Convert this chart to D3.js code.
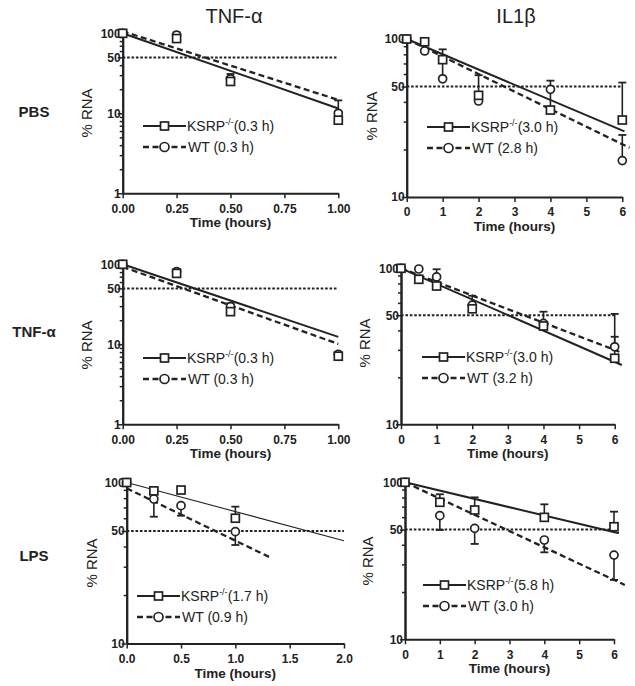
<!DOCTYPE html>
<html>
<head>
<meta charset="utf-8">
<title>mRNA decay, KSRP-/- vs WT</title>
<script src="https://d3js.org/d3.v7.min.js"></script>
<style>
  body { margin: 0; background: #fff; }
  text { font-family: Arial, "Liberation Sans", sans-serif; fill: #222; }
</style>
</head>
<body>
<div id="chart"></div>
<script>
// ---- data ----
var colTitles = ["TNF-\u03b1", "IL1\u03b2"];
var rowTitles = ["PBS", "TNF-\u03b1", "LPS"];

var timeShort = [0, 0.25, 0.5, 1];
var timeLong = [0, 0.5, 1, 2, 4, 6];
var timeLps = [0, 1, 2, 4, 6];

// PBS / TNF-a
var pbsTnfKsrp = [100, 86, 25, 8.2];
var pbsTnfWt = [100, 95, 27, 10];
var pbsTnfKsrpErr = [null, null, 31, null];
var pbsTnfWtErr = [null, 103, null, 14.5];
var pbsTnfKsrpFit = [[0, 100], [1, 11.5]];
var pbsTnfWtFit = [[0, 106], [1, 14.7]];

// PBS / IL1b
var pbsIl1Ksrp = [100, 96, 74, 44, 35.5, 30.7];
var pbsIl1Wt = [100, 84, 56, 40.5, 48, 17];
var pbsIl1KsrpErr = [null, null, 86, 59, 47, 53];
var pbsIl1WtErr = [null, null, 72, null, 54.5, 24.7];
var pbsIl1KsrpFit = [[0, 100], [6.06, 26]];
var pbsIl1WtFit = [[0, 100], [6.2, 20.5]];

// TNF-a / TNF-a
var tnfTnfKsrp = [100, 77, 25.6, 7.1];
var tnfTnfWt = [100, 81, 29.5, 7.5];
var tnfTnfKsrpErr = [null, null, null, null];
var tnfTnfWtErr = [null, 87, 32.5, null];
var tnfTnfKsrpFit = [[0, 100], [1, 12.4]];
var tnfTnfWtFit = [[0, 93], [1, 10.1]];

// TNF-a / IL1b
var tnfIl1Ksrp = [100, 85, 77, 55, 42.7, 26.5];
var tnfIl1Wt = [100, 99, 88, 58, 44.4, 31.4];
var tnfIl1KsrpErr = [null, null, null, null, null, 36.4];
var tnfIl1WtErr = [null, null, 98.6, 66.7, 52.7, 51];
var tnfIl1KsrpFit = [[0, 100], [6.2, 24]];
var tnfIl1WtFit = [[0, 100], [6.13, 29.2]];

// LPS / TNF-a
var lpsTnfKsrp = [100, 88.7, 89.8, 60];
var lpsTnfWt = [100, 79, 71.8, 49.5];
var lpsTnfKsrpErr = [null, null, null, 70.8];
var lpsTnfWtErr = [null, 61.3, 62.2, 40.9];
var lpsTnfKsrpFit = [[0, 100], [2, 43.5]];
var lpsTnfWtFit = [[0, 92], [1.33, 34]];

// LPS / IL1b
var lpsIl1Ksrp = [100, 74.6, 66.6, 59.8, 52.1];
var lpsIl1Wt = [100, 61.3, 50.9, 42.9, 34.4];
var lpsIl1KsrpErr = [null, 83.9, 80.2, 72.4, 65];
var lpsIl1WtErr = [null, 49.7, 40.5, 35.8, 23.9];
var lpsIl1KsrpFit = [[0, 100], [6.14, 47.3]];
var lpsIl1WtFit = [[0, 100], [6.31, 22.2]];

// half-lives shown in the legends
var ksrpHalf = ["0.3", "3.0", "0.3", "3.0", "1.7", "5.8"];
var wtHalf = ["0.3", "2.8", "0.3", "3.2", "0.9", "3.0"];

// ---- layout ----
var width = 635, height = 686;

var svg = d3.select("#chart")
  .append("svg")
    .attr("width", width)
    .attr("height", height);

var panels = [
  {x0: 122.7, x1: 338.3, xd: [0, 1], xt: [0, 0.25, 0.5, 0.75, 1], xf: d3.format(".2f"),
   yb: 193.3, yt: 33.3, yd: [1, 100], yTicks: [1, 10, 50, 100],
   t: timeShort, k: pbsTnfKsrp, w: pbsTnfWt, ke: pbsTnfKsrpErr, we: pbsTnfWtErr,
   kf: pbsTnfKsrpFit, wf: pbsTnfWtFit, leg: [143, 126], lab: [87, 113]},
  {x0: 406.7, x1: 622.3, xd: [0, 6], xt: [0, 1, 2, 3, 4, 5, 6], xf: d3.format("d"),
   yb: 197, yt: 39, yd: [10, 100], yTicks: [10, 50, 100],
   t: timeLong, k: pbsIl1Ksrp, w: pbsIl1Wt, ke: pbsIl1KsrpErr, we: pbsIl1WtErr,
   kf: pbsIl1KsrpFit, wf: pbsIl1WtFit, leg: [427, 127], lab: [372, 116]},
  {x0: 122.7, x1: 338.3, xd: [0, 1], xt: [0, 0.25, 0.5, 0.75, 1], xf: d3.format(".2f"),
   yb: 424.3, yt: 264.3, yd: [1, 100], yTicks: [1, 10, 50, 100],
   t: timeShort, k: tnfTnfKsrp, w: tnfTnfWt, ke: tnfTnfKsrpErr, we: tnfTnfWtErr,
   kf: tnfTnfKsrpFit, wf: tnfTnfWtFit, leg: [143, 358], lab: [87, 345]},
  {x0: 401, x1: 614.7, xd: [0, 6], xt: [0, 1, 2, 3, 4, 5, 6], xf: d3.format("d"),
   yb: 424.3, yt: 268.3, yd: [10, 100], yTicks: [10, 50, 100],
   t: timeLong, k: tnfIl1Ksrp, w: tnfIl1Wt, ke: tnfIl1KsrpErr, we: tnfIl1WtErr,
   kf: tnfIl1KsrpFit, wf: tnfIl1WtFit, leg: [422, 357], lab: [365, 343]},
  {x0: 126.7, x1: 344, xd: [0, 2], xt: [0, 0.5, 1, 1.5, 2], xf: d3.format(".1f"),
   yb: 643.5, yt: 482.5, yd: [10, 100], yTicks: [10, 50, 100], thinKsrp: true,
   t: timeShort, k: lpsTnfKsrp, w: lpsTnfWt, ke: lpsTnfKsrpErr, we: lpsTnfWtErr,
   kf: lpsTnfKsrpFit, wf: lpsTnfWtFit, leg: [137, 596], lab: [92, 563]},
  {x0: 405, x1: 614, xd: [0, 6], xt: [0, 1, 2, 3, 4, 5, 6], xf: d3.format("d"),
   yb: 639.3, yt: 482.3, yd: [10, 100], yTicks: [10, 50, 100],
   t: timeLps, k: lpsIl1Ksrp, w: lpsIl1Wt, ke: lpsIl1KsrpErr, we: lpsIl1WtErr,
   kf: lpsIl1KsrpFit, wf: lpsIl1WtFit, leg: [423, 585], lab: [368, 561]}
];

var minorAll = [2, 3, 4, 5, 6, 7, 8, 9, 20, 30, 40, 60, 70, 80, 90];

panels.forEach(function(p, i) {
  var g = svg.append("g");
  var x = d3.scaleLinear().domain(p.xd).range([p.x0, p.x1]);
  var y = d3.scaleLog().domain(p.yd).range([p.yb, p.yt]);

  // 50% reference line
  g.append("line")
    .attr("x1", p.x0).attr("x2", p.x1)
    .attr("y1", y(50)).attr("y2", y(50))
    .attr("stroke", "#222").attr("stroke-width", 2)
    .attr("stroke-dasharray", "2.6,1.8");

  // axes
  var xa = g.append("g")
    .attr("transform", "translate(0," + p.yb + ")")
    .call(d3.axisBottom(x).tickValues(p.xt).tickFormat(p.xf).tickSize(5).tickSizeOuter(0));
  xa.selectAll("text").attr("dy", "0.95em")
    .style("font-size", "12px").style("font-weight", "bold");

  var minor = minorAll.filter(function(v) { return v > p.yd[0] && v < p.yd[1]; });
  g.append("g")
    .attr("transform", "translate(" + p.x0 + ",0)")
    .call(d3.axisLeft(y).tickValues(minor).tickFormat("").tickSize(3).tickSizeOuter(0));
  var ya = g.append("g")
    .attr("transform", "translate(" + p.x0 + ",0)")
    .call(d3.axisLeft(y).tickValues(p.yTicks).tickFormat(d3.format("d")).tickSize(5).tickSizeOuter(0));
  ya.selectAll("text").attr("x", -2)
    .style("font-size", "12px").style("font-weight", "bold");

  g.selectAll(".domain").attr("stroke", "#222").attr("stroke-width", 2);
  g.selectAll(".tick line").attr("stroke", "#222").attr("stroke-width", 1.5);

  // axis titles
  g.append("text")
    .attr("x", (p.x0 + p.x1) / 2).attr("y", p.yb + 34)
    .attr("text-anchor", "middle")
    .style("font-size", "13.5px").style("font-weight", "bold")
    .text("Time (hours)");
  g.append("text")
    .attr("transform", "translate(" + (p.lab[0] + 5) + "," + p.lab[1] + ") rotate(-90)")
    .attr("text-anchor", "middle")
    .style("font-size", "15px")
    .text("% RNA");

  // fitted decay lines
  var line = d3.line().x(function(d) { return x(d[0]); }).y(function(d) { return y(d[1]); });
  g.append("path").datum(p.kf)
    .attr("fill", "none").attr("stroke", "#222")
    .attr("stroke-width", p.thinKsrp ? 1.1 : 2)
    .attr("d", line);
  g.append("path").datum(p.wf)
    .attr("fill", "none").attr("stroke", "#222")
    .attr("stroke-width", 2.3).attr("stroke-dasharray", "6,3.5")
    .attr("d", line);

  // error bars (one sided)
  function errBars(vals, errs) {
    var rows = p.t.map(function(t, j) { return {t: t, v: vals[j], e: errs[j]}; })
      .filter(function(d) { return d.e != null; });
    g.selectAll(null).data(rows).enter().append("line")
      .attr("x1", function(d) { return x(d.t); }).attr("x2", function(d) { return x(d.t); })
      .attr("y1", function(d) { return y(d.v); }).attr("y2", function(d) { return y(d.e); })
      .attr("stroke", "#222").attr("stroke-width", 1.6);
    g.selectAll(null).data(rows).enter().append("line")
      .attr("x1", function(d) { return x(d.t) - 4; }).attr("x2", function(d) { return x(d.t) + 4; })
      .attr("y1", function(d) { return y(d.e); }).attr("y2", function(d) { return y(d.e); })
      .attr("stroke", "#222").attr("stroke-width", 1.8);
  }
  errBars(p.w, p.we);
  errBars(p.k, p.ke);

  // points
  g.selectAll(null).data(p.t.map(function(t, j) { return [t, p.w[j]]; }))
    .enter().append("circle")
      .attr("cx", function(d) { return x(d[0]); })
      .attr("cy", function(d) { return y(d[1]); })
      .attr("r", 4)
      .attr("fill", "#fff").attr("stroke", "#222").attr("stroke-width", 1.7);
  g.selectAll(null).data(p.t.map(function(t, j) { return [t, p.k[j]]; }))
    .enter().append("rect")
      .attr("x", function(d) { return x(d[0]) - 4; })
      .attr("y", function(d) { return y(d[1]) - 4; })
      .attr("width", 8).attr("height", 8)
      .attr("fill", "#fff").attr("stroke", "#222").attr("stroke-width", 1.7);

  // legend
  var lx = p.leg[0], ly = p.leg[1], ly2 = ly + 21;
  g.append("line").attr("x1", lx).attr("x2", lx + 43).attr("y1", ly).attr("y2", ly)
    .attr("stroke", "#222").attr("stroke-width", 2);
  g.append("rect").attr("x", lx + 17.5).attr("y", ly - 4).attr("width", 8).attr("height", 8)
    .attr("fill", "#fff").attr("stroke", "#222").attr("stroke-width", 1.7);
  var t1 = g.append("text").attr("x", lx + 44).attr("y", ly + 5).style("font-size", "14px");
  t1.append("tspan").text("KSRP");
  t1.append("tspan").attr("dy", -6).style("font-size", "9px").text("-/-");
  t1.append("tspan").attr("dy", 6).text("(" + ksrpHalf[i] + " h)");

  g.append("line").attr("x1", lx).attr("x2", lx + 43).attr("y1", ly2).attr("y2", ly2)
    .attr("stroke", "#222").attr("stroke-width", 2.3).attr("stroke-dasharray", "6,3.5");
  g.append("circle").attr("cx", lx + 21.5).attr("cy", ly2).attr("r", 4.5)
    .attr("fill", "#fff").attr("stroke", "#222").attr("stroke-width", 1.7);
  g.append("text").attr("x", lx + 45).attr("y", ly2 + 5).style("font-size", "14px")
    .text("WT (" + wtHalf[i] + " h)");
});

// column and row headers
svg.selectAll(null).data(colTitles).enter().append("text")
  .attr("x", function(d, i) { return i === 0 ? 234 : 516; })
  .attr("y", 23)
  .attr("text-anchor", "middle")
  .style("font-size", "20px")
  .text(function(d) { return d; });

svg.selectAll(null).data(rowTitles).enter().append("text")
  .attr("x", 34)
  .attr("y", function(d, i) { return [117, 337, 561][i]; })
  .attr("text-anchor", "middle")
  .style("font-size", "15px").style("font-weight", "bold")
  .text(function(d) { return d; });
</script>
</body>
</html>
